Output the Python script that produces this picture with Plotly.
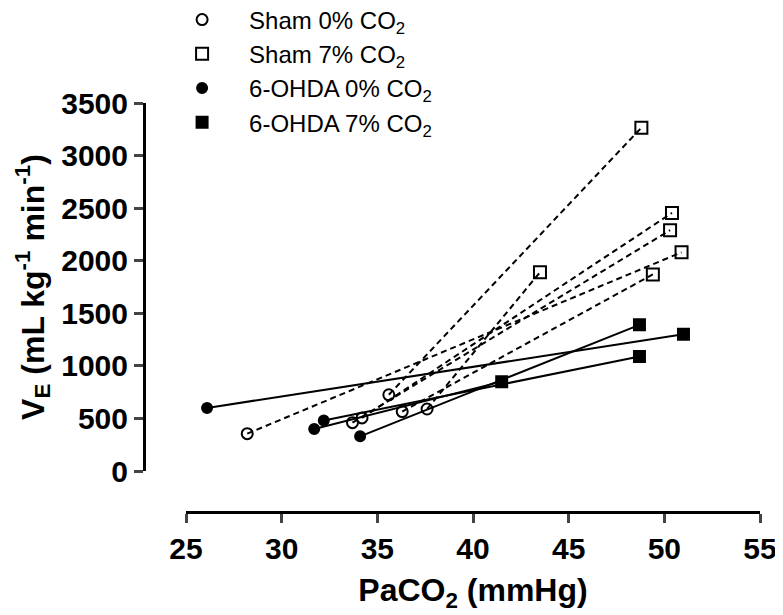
import plotly.graph_objects as go

# PaCO2 (mmHg) and VE (mL/kg/min), pairs: 0% CO2 point -> 7% CO2 point
sham0_x = [28.2, 35.6, 33.7, 34.2, 36.3, 37.6]
sham0_y = [355, 725, 460, 505, 565, 590]
sham7_x = [50.9, 48.8, 50.3, 50.4, 49.4, 43.5]
sham7_y = [2080, 3265, 2290, 2455, 1870, 1890]

ohda0_x = [26.1, 32.2, 31.7, 34.1]
ohda0_y = [600, 480, 400, 330]
ohda7_x = [51.0, 48.7, 41.5, 48.7]
ohda7_y = [1300, 1090, 850, 1390]

x_ticks = [25, 30, 35, 40, 45, 50, 55]
y_ticks = [0, 500, 1000, 1500, 2000, 2500, 3000, 3500]

names = ["Sham 0% CO<sub>2</sub>", "Sham 7% CO<sub>2</sub>",
         "6-OHDA 0% CO<sub>2</sub>", "6-OHDA 7% CO<sub>2</sub>"]


def pair_lines(x0, y0, x1, y1):
    xs, ys = [], []
    for a, b, c, d in zip(x0, y0, x1, y1):
        xs += [a, c, None]
        ys += [b, d, None]
    return xs, ys


fig = go.Figure()

sx, sy = pair_lines(sham0_x, sham0_y, sham7_x, sham7_y)
fig.add_trace(go.Scatter(x=sx, y=sy, mode='lines', showlegend=False,
                         line=dict(color='black', width=2, dash='6px,4px')))
ox, oy = pair_lines(ohda0_x, ohda0_y, ohda7_x, ohda7_y)
fig.add_trace(go.Scatter(x=ox, y=oy, mode='lines', showlegend=False,
                         line=dict(color='black', width=2)))

groups = [(sham0_x, sham0_y, 'circle-open', 11),
          (sham7_x, sham7_y, 'square-open', 12),
          (ohda0_x, ohda0_y, 'circle', 10),
          (ohda7_x, ohda7_y, 'square', 11)]
for i, (gx, gy, sym, sz) in enumerate(groups):
    fig.add_trace(go.Scatter(x=gx, y=gy, mode='markers', name=names[i],
                             legendgroup=str(i),
                             marker=dict(symbol=sym, size=sz, color='black',
                                         line=dict(color='black', width=2))))

bold_ticks = dict(size=30, family='Liberation Sans, Arial', weight='bold')

# page body adds an 8px offset, so margins are shifted by that amount
fig.update_layout(
    width=783, height=615,
    margin=dict(l=136, r=31, t=95, b=111, autoexpand=False),
    plot_bgcolor='white', paper_bgcolor='white',
    font=dict(family='Liberation Sans, Arial', color='black'),
    showlegend=True,
    legend=dict(x=0.018, y=1.258, xanchor='left', yanchor='top',
                font=dict(size=24), bgcolor='rgba(0,0,0,0)',
                traceorder='grouped', tracegroupgap=0, itemwidth=84),
    xaxis=dict(range=[25, 55], domain=[0.0682, 1], anchor='free', position=0,
               automargin=False,
               tickvals=x_ticks, ticks='outside', ticklen=9, tickwidth=3,
               showline=True, linewidth=3, linecolor='black',
               showgrid=False, zeroline=False, tickfont=bold_ticks,
               title=dict(text='<b>PaCO<sub>2</sub> (mmHg)</b>', font=dict(size=32), standoff=14)),
    yaxis=dict(range=[0, 3500], domain=[0.1002, 1], anchor='free', position=0,
               automargin=False,
               tickvals=y_ticks, ticks='outside', ticklen=9, tickwidth=3,
               showline=True, linewidth=3, linecolor='black',
               showgrid=False, zeroline=False, tickfont=bold_ticks,
               title=dict(text='<b>V<sub>E</sub> (mL kg<sup>-1</sup> min<sup>-1</sup>)</b>',
                          font=dict(size=32), standoff=6)),
)

fig.write_html("out.html")
